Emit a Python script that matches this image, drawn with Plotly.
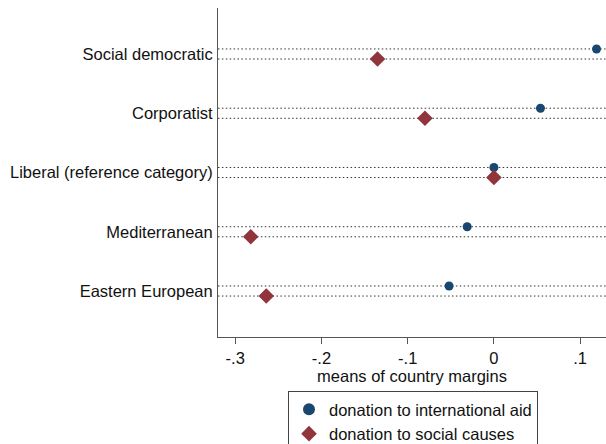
import plotly.graph_objects as go

categories = ["Social democratic", "Corporatist", "Liberal (reference category)",
              "Mediterranean", "Eastern European"]
intl_aid = [0.119, 0.054, 0.0, -0.031, -0.052]
social_causes = [-0.135, -0.080, 0.0, -0.282, -0.264]
xtick_vals = [-0.3, -0.2, -0.1, 0.0, 0.1]
xtick_text = ["-.3", "-.2", "-.1", "0", ".1"]

n = len(categories)
ypos = [n - i for i in range(n)]
off = 0.085
y_aid = [y + off for y in ypos]
y_soc = [y - off for y in ypos]

FONT = "Liberation Sans, Arial, sans-serif"
BLUE = "#1a476f"
RED = "#90353b"

fig = go.Figure()
fig.add_trace(go.Scatter(x=intl_aid, y=y_aid, mode="markers", name="donation to international aid",
                         marker=dict(symbol="circle", size=9, color=BLUE)))
fig.add_trace(go.Scatter(x=social_causes, y=y_soc, mode="markers", name="donation to social causes",
                         marker=dict(symbol="diamond", size=12, color=RED)))

for y in y_aid + y_soc:
    fig.add_shape(type="line", xref="paper", yref="y", x0=0, x1=1, y0=y, y1=y,
                  line=dict(color="#333333", width=1, dash="1.5px,2.4px"), layer="below")

fig.update_layout(
    width=606, height=444,
    margin=dict(l=218, r=0, t=8, b=107, autoexpand=False),
    paper_bgcolor="white", plot_bgcolor="white",
    font=dict(family=FONT, size=16, color="#111111"),
    showlegend=True,
    legend=dict(x=(288 - 218) / 388, y=-(391 - 337) / 329, xanchor="left", yanchor="top",
                bordercolor="#444444", borderwidth=1, font=dict(size=16.5),
                itemsizing="constant"),
    xaxis=dict(range=[-0.32, 0.13], tickvals=xtick_vals, ticktext=xtick_text,
               showgrid=False, zeroline=False, showline=True, linecolor="#555555", linewidth=1,
               ticks="outside", ticklen=6, tickcolor="#555555",
               tickfont=dict(size=16.5),
               title=dict(text="means of country margins", font=dict(size=16.5), standoff=0)),
    yaxis=dict(range=[0.224, 5.776], tickvals=ypos, ticktext=categories,
               showgrid=False, zeroline=False, showline=True, linecolor="#555555", linewidth=1,
               ticks="", ticklabelstandoff=1, tickfont=dict(size=16.5)),
)

fig.write_html("out.html")
